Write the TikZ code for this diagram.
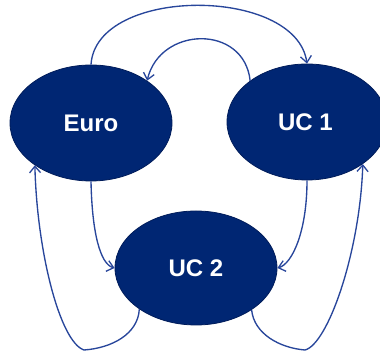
\documentclass[tikz,border=0pt]{standalone}
\usepackage{fontspec}
\setmainfont{Liberation Sans}
\usetikzlibrary{shapes.geometric,arrows.meta}
\definecolor{navy}{RGB}{0,38,115}
\definecolor{navyedge}{RGB}{0,28,90}
\definecolor{linkblue}{RGB}{40,70,155}
\tikzset{
  state/.style={ellipse, fill=navy, draw=navyedge, line width=0.8pt, inner sep=0pt,
    text=white, font=\fontsize{24}{28}\selectfont\bfseries},
  link/.style={draw=linkblue, line width=1.35pt,
    -{Straight Barb[length=6.5pt,width=11pt,line width=1.3pt]}}
}
\begin{document}
\begin{tikzpicture}[x=1pt,y=1pt]
\useasboundingbox (0,0) rectangle (380,352);
\node[state, minimum width=162pt, minimum height=116pt] (euro) at (91,229) {Euro};
\node[state, minimum width=160pt, minimum height=116pt] (uc1) at (307,230) {\hspace*{-3pt}UC 1};
\node[state, minimum width=162pt, minimum height=114pt] (uc2) at (196,84) {UC 2};
\coordinate (lb) at (84,2);
\coordinate (rb) at (305,2);
% top outer arc Euro -> UC1
\draw[link] (euro.north) .. controls (96,366) and (296,366) .. (uc1.north);
% inner arc UC1 -> Euro
\draw[link] (uc1.144) .. controls (244,328) and (160,326) .. (euro.37);
% Euro -> UC2
\draw[link] (euro.south) .. controls (92,120) and (100,88) .. (uc2.west);
% UC1 -> UC2
\draw[link] (uc1.south) .. controls (307,120) and (292,88) .. (uc2.east);
% UC2 -> Euro via bottom left
\draw[link] (uc2.216) .. controls (138,18) and (112,4) .. (lb)
  .. controls (60,10) and (37,100) .. (euro.217);
% UC2 -> UC1 via bottom right
\draw[link] (uc2.-37) .. controls (254,18) and (280,4) .. (rb)
  .. controls (328,8) and (360,100) .. (uc1.-37.5);
\end{tikzpicture}
\end{document}
